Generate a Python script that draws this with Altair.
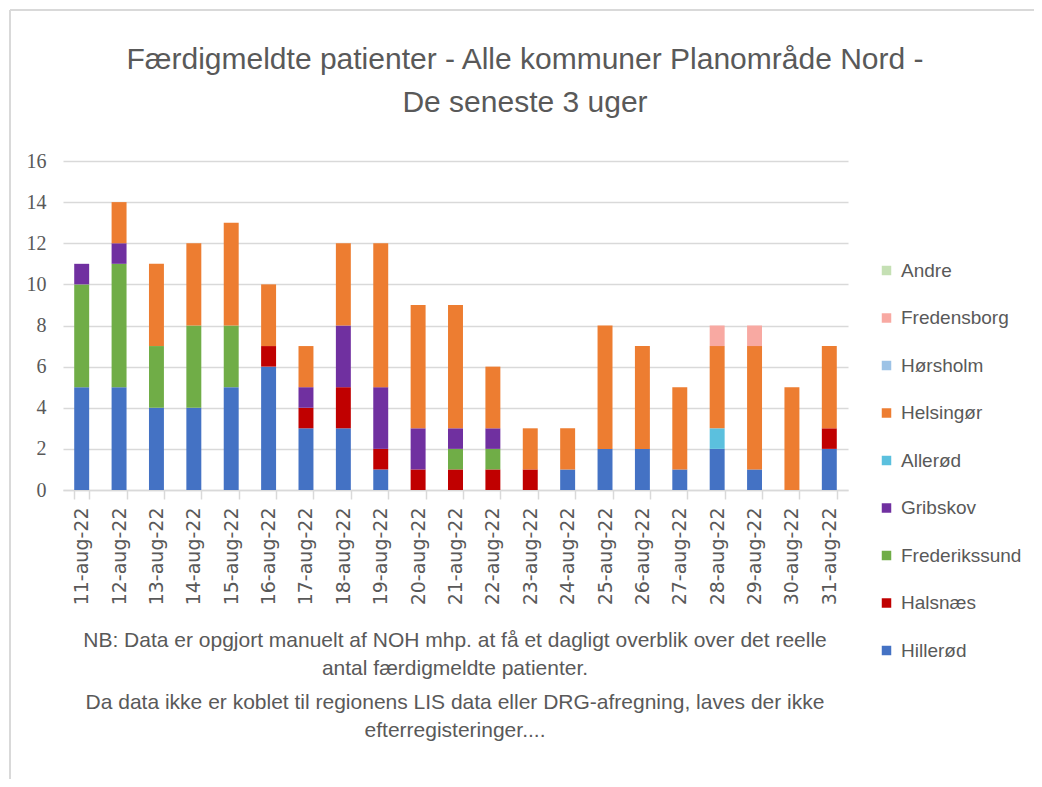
import altair as alt
import pandas as pd

dates = ["11-aug-22", "12-aug-22", "13-aug-22", "14-aug-22", "15-aug-22", "16-aug-22",
         "17-aug-22", "18-aug-22", "19-aug-22", "20-aug-22", "21-aug-22", "22-aug-22",
         "23-aug-22", "24-aug-22", "25-aug-22", "26-aug-22", "27-aug-22", "28-aug-22",
         "29-aug-22", "30-aug-22", "31-aug-22"]

hillerod      = [5, 5, 4, 4, 5, 6, 3, 3, 1, 0, 0, 0, 0, 1, 2, 2, 1, 2, 1, 0, 2]
halsnaes      = [0, 0, 0, 0, 0, 1, 1, 2, 1, 1, 1, 1, 1, 0, 0, 0, 0, 0, 0, 0, 1]
frederikssund = [5, 6, 3, 4, 3, 0, 0, 0, 0, 0, 1, 1, 0, 0, 0, 0, 0, 0, 0, 0, 0]
gribskov      = [1, 1, 0, 0, 0, 0, 1, 3, 3, 2, 1, 1, 0, 0, 0, 0, 0, 0, 0, 0, 0]
allerod       = [0, 0, 0, 0, 0, 0, 0, 0, 0, 0, 0, 0, 0, 0, 0, 0, 0, 1, 0, 0, 0]
helsingor     = [0, 2, 4, 4, 5, 3, 2, 4, 7, 6, 6, 3, 2, 2, 6, 5, 4, 4, 6, 5, 4]
horsholm      = [0, 0, 0, 0, 0, 0, 0, 0, 0, 0, 0, 0, 0, 0, 0, 0, 0, 0, 0, 0, 0]
fredensborg   = [0, 0, 0, 0, 0, 0, 0, 0, 0, 0, 0, 0, 0, 0, 0, 0, 0, 1, 1, 0, 0]
andre         = [0, 0, 0, 0, 0, 0, 0, 0, 0, 0, 0, 0, 0, 0, 0, 0, 0, 0, 0, 0, 0]

# stack order: bottom -> top
series_names = ["Hillerød", "Halsnæs", "Frederikssund", "Gribskov", "Allerød",
                "Helsingør", "Hørsholm", "Fredensborg", "Andre"]
series_values = [hillerod, halsnaes, frederikssund, gribskov, allerod,
                 helsingor, horsholm, fredensborg, andre]
series_colors = ["#4472C4", "#C00000", "#70AD47", "#7030A0", "#5BC0DE",
                 "#ED7D31", "#9DC3E6", "#F8A9A2", "#C5E0B4"]

title_lines = ["Færdigmeldte patienter - Alle kommuner Planområde Nord -",
               "De seneste 3 uger"]
note_lines = ["NB: Data er opgjort manuelt af NOH mhp. at få et dagligt overblik over det reelle",
              "antal færdigmeldte patienter.",
              "Da data ikke er koblet til regionens LIS data eller DRG-afregning, laves der ikke",
              "efterregisteringer...."]

rows = []
for idx, (name, vals) in enumerate(zip(series_names, series_values)):
    for d, v in zip(dates, vals):
        if v > 0:
            rows.append({"dato": d, "kommune": name, "antal": v, "idx": idx})
df = pd.DataFrame(rows)

W, H = 785, 329
GRAY = "#595959"
LINE = "#D9D9D9"

legend_order = list(reversed(series_names))
legend_colors = list(reversed(series_colors))

bars = alt.Chart(df).mark_bar().encode(
    x=alt.X("dato:N", sort=dates, title=None,
            scale=alt.Scale(domain=dates, paddingInner=0.6, paddingOuter=0.3),
            axis=alt.Axis(labelAngle=270, labelFont="DejaVu Sans", labelFontSize=19,
                          labelColor=GRAY, domainColor=LINE, domainWidth=1.5,
                          tickColor=LINE, tickWidth=1.5, tickSize=9, tickBand="extent",
                          labelPadding=8)),
    y=alt.Y("antal:Q", title=None, stack="zero",
            scale=alt.Scale(domain=[0, 16], nice=False),
            axis=alt.Axis(values=list(range(0, 17, 2)), ticks=False, domain=False,
                          labelFont="Liberation Sans Narrow", labelFontSize=20,
                          labelColor=GRAY, labelPadding=17,
                          gridColor=LINE, gridWidth=1.5)),
    color=alt.Color("kommune:N",
                    scale=alt.Scale(domain=legend_order, range=legend_colors),
                    legend=alt.Legend(title=None, orient="none", legendX=814, legendY=100,
                                      symbolType="square", symbolSize=90,
                                      symbolStrokeWidth=0, labelFont="Liberation Sans",
                                      labelFontSize=19, labelColor=GRAY, labelOffset=5,
                                      rowPadding=27.5, padding=0)),
    order=alt.Order("idx:Q", sort="ascending"),
)

def text_line(txt, x, y, size, font="Liberation Sans"):
    return alt.Chart(pd.DataFrame({"t": [txt]})).mark_text(
        font=font, fontSize=size, color=GRAY, align="center", baseline="middle"
    ).encode(text="t:N", x=alt.value(x), y=alt.value(y))

texts = [text_line(title_lines[0], 462, -101, 30),
         text_line(title_lines[1], 462, -58, 30)]
for line, y in zip(note_lines, [480, 508, 542, 570]):
    texts.append(text_line(line, 392, y, 21))

frame_top = alt.Chart(pd.DataFrame({"a": [0]})).mark_rule(color=LINE, strokeWidth=2).encode(
    x=alt.value(-53), x2=alt.value(980), y=alt.value(-151))
frame_left = alt.Chart(pd.DataFrame({"a": [0]})).mark_rule(color=LINE, strokeWidth=2).encode(
    x=alt.value(-53), y=alt.value(-151), y2=alt.value(620))

chart = alt.layer(frame_top, frame_left, bars, *texts).properties(
    width=W, height=H,
    padding={"left": 55, "top": 153, "right": 186, "bottom": 289},
    autosize=alt.AutoSizeParams(type="none"),
).configure_view(stroke=None)

chart.save("out.html", embed_options={"renderer": "svg", "actions": False})
